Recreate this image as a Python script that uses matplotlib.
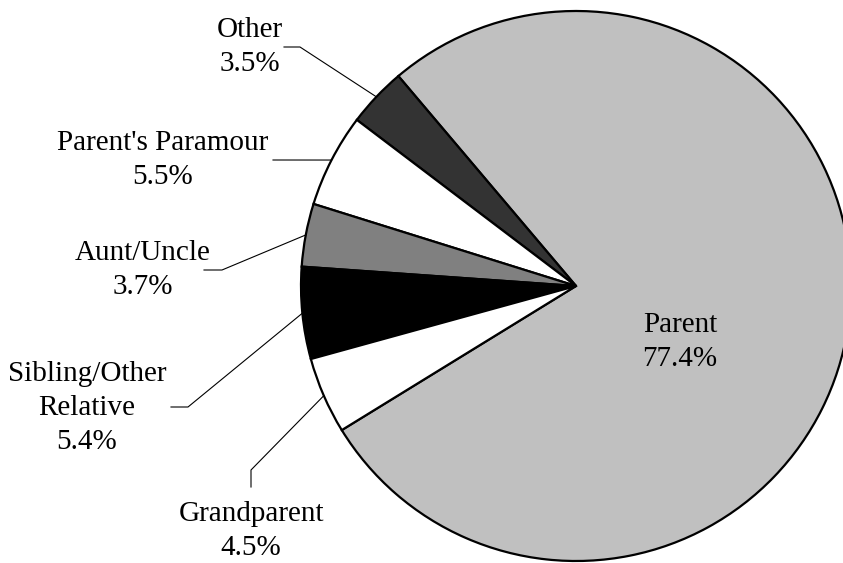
import numpy as np
import matplotlib.pyplot as plt

plt.rcParams["font.family"] = ["Liberation Serif", "DejaVu Serif"]

# ── Data ──────────────────────────────────────────────────────────────────────
labels = ["Parent", "Other", "Parent's Paramour", "Aunt/Uncle",
          "Sibling/Other\nRelative", "Grandparent"]
shares = [77.4, 3.5, 5.5, 3.7, 5.4, 4.5]
colors = ["#C0C0C0", "#333333", "#FFFFFF", "#808080", "#000000", "#FFFFFF"]

# label anchor (text centre, pixel coords from top-left) and leader elbow
label_pos = {
    "Other": (250, 47),
    "Parent's Paramour": (163, 160),
    "Aunt/Uncle": (143, 270),
    "Sibling/Other\nRelative": (87, 408),
    "Grandparent": (251, 531),
}
elbows = {
    "Other": [(284, 47), (300, 47)],
    "Parent's Paramour": [(273, 160)],
    "Aunt/Uncle": [(204, 270), (222, 270)],
    "Sibling/Other\nRelative": [(171, 407), (188, 407)],
    "Grandparent": [(251, 487), (251, 470)],
}

W, H = 843, 563
CX, CY, R = 576, 286, 275

fig = plt.figure(figsize=(W / 100, H / 100), dpi=100)
ax = fig.add_axes([0, 0, 1, 1])

wedges, _ = ax.pie(shares, colors=colors, startangle=211.6, counterclock=True,
                   radius=R, center=(CX, H - CY),
                   wedgeprops=dict(edgecolor="black", linewidth=1.6))
ax.set_aspect("auto")
ax.set_xlim(0, W)
ax.set_ylim(0, H)
ax.axis("off")

fs = 21
ls = 1.4
for w, lab, val in zip(wedges, labels, shares):
    if lab == "Parent":
        ax.text(680, H - 342, f"{lab}\n{val}%", ha="center", va="center",
                fontsize=fs, linespacing=ls)
        continue
    mid = np.radians((w.theta1 + w.theta2) / 2)
    ex = CX + R * np.cos(mid)
    ey = (H - CY) + R * np.sin(mid)
    pts = [(x, H - y) for x, y in elbows[lab]] + [(ex, ey)]
    xs, ys = zip(*pts)
    ax.plot(xs, ys, color="black", linewidth=0.8)
    tx, ty = label_pos[lab]
    ax.text(tx, H - ty, f"{lab}\n{val}%", ha="center", va="center",
            fontsize=fs, linespacing=ls)

fig.savefig("out.png", dpi=100)
